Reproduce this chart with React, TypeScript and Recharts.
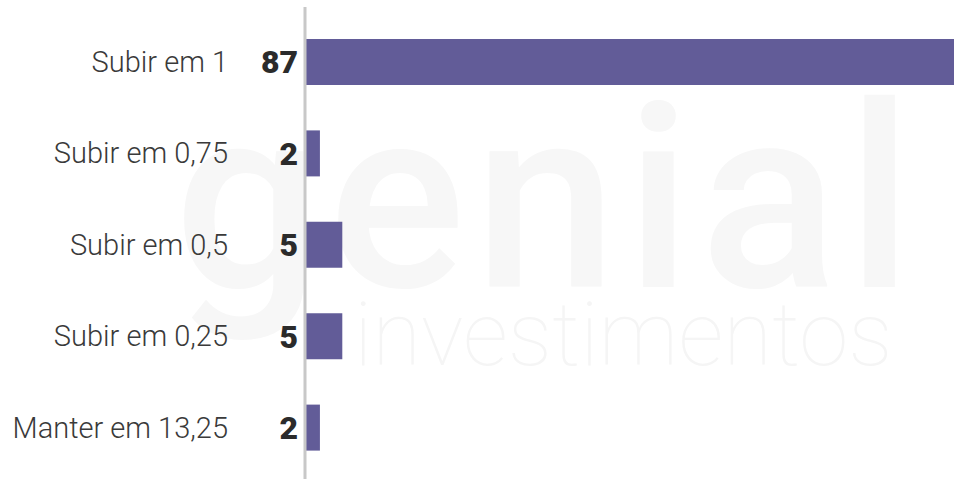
import { BarChart, Bar, XAxis, YAxis, LabelList } from "recharts";

const categories = ["Subir em 1", "Subir em 0,75", "Subir em 0,5", "Subir em 0,25", "Manter em 13,25"];
const votes = [87, 2, 5, 5, 2];

const chartData = categories.map((name, i) => ({ name, votes: votes[i] }));

const BAR_COLOR = "#625c98";

export default function App() {
  return (
    <div style={{ position: "absolute", left: 0, top: 0, width: 954, height: 479, background: "#fff", fontFamily: "Roboto, sans-serif" }}>
      {/* marca d'água */}
      <svg width={954} height={479} style={{ position: "absolute", left: 0, top: 0 }}>
        <text x={174} y={287} fontSize={256} fontWeight={500} fill="#f7f7f7" fontFamily="Roboto" letterSpacing={9}>
          genial
        </text>
        <text x={354} y={365} fontSize={89} fontWeight={100} fill="#f5f5f5" fontFamily="Roboto">
          investimentos
        </text>
      </svg>
      <div style={{ position: "absolute", left: 0, top: 0 }}>
        <BarChart
          width={954}
          height={479}
          data={chartData}
          layout="vertical"
          margin={{ top: 7, right: 0, bottom: 0, left: 0 }}
        >
          <XAxis type="number" domain={[0, 87]} hide />
          <YAxis
            type="category"
            dataKey="name"
            width={305}
            padding={{ top: 9, bottom: 6 }}
            tickLine={false}
            axisLine={{ stroke: "#c8c8c8", strokeWidth: 3 }}
            tickMargin={71}
            tick={{ fontSize: 29, fontWeight: 300, fill: "#3a3a3a", fontFamily: "Roboto" }}
          />
          <Bar dataKey="votes" fill={BAR_COLOR} barSize={46} isAnimationActive={false}>
            <LabelList
              dataKey="votes"
              position="left"
              offset={7}
              style={{ fontSize: 32, fontWeight: 900, fill: "#2b2b2b", fontFamily: "Roboto" }}
            />
          </Bar>
        </BarChart>
      </div>
    </div>
  );
}
